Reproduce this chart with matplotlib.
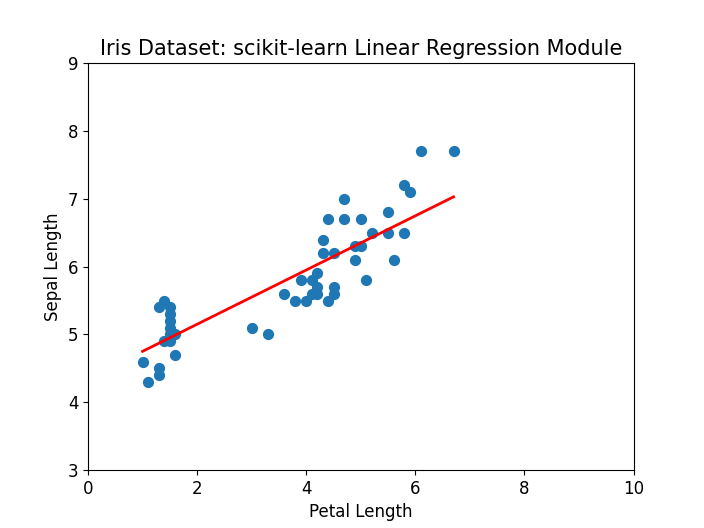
import numpy as np
import matplotlib
matplotlib.use("Agg")
import matplotlib.pyplot as plt

petal = [1.0,1.1,1.3,1.3,1.3,1.4,1.4,1.5,1.5,1.5,1.5,1.5,1.6,1.6,1.5,
         3.0,3.3,3.6,3.8,3.9,4.0,4.1,4.1,4.2,4.2,4.2,4.3,4.3,4.4,4.4,4.5,4.5,4.5,
         4.7,4.7,4.9,4.9,5.0,5.0,5.1,5.2,5.5,5.5,5.6,5.8,5.8,5.9,6.1,6.7]
sepal = [4.6,4.3,4.5,4.4,5.4,5.5,4.9,5.4,5.3,5.2,5.1,4.9,5.0,4.7,5.0,
         5.1,5.0,5.6,5.5,5.8,5.5,5.8,5.6,5.9,5.7,5.6,6.4,6.2,6.7,5.5,6.2,5.7,5.6,
         7.0,6.7,6.3,6.1,6.7,6.3,5.8,6.5,6.8,6.5,6.1,7.2,6.5,7.1,7.7,7.7]
# model coefficients
slope = 0.40
intercept = 4.35

x = np.array(petal); y = np.array(sepal)
xs = np.array([x.min(), x.max()])

plt.rcParams['font.size'] = 12
fig, ax = plt.subplots(figsize=(7.04, 5.28), dpi=100)
ax.scatter(x, y, s=50, color='#1f77b4')
ax.plot(xs, slope*xs + intercept, color='red', linewidth=2)
ax.set_xlim(0, 10)
ax.set_ylim(3, 9)
ax.set_xlabel('Petal Length')
ax.set_ylabel('Sepal Length')
ax.set_title('Iris Dataset: scikit-learn Linear Regression Module', fontsize=15)
fig.savefig('out.png')
